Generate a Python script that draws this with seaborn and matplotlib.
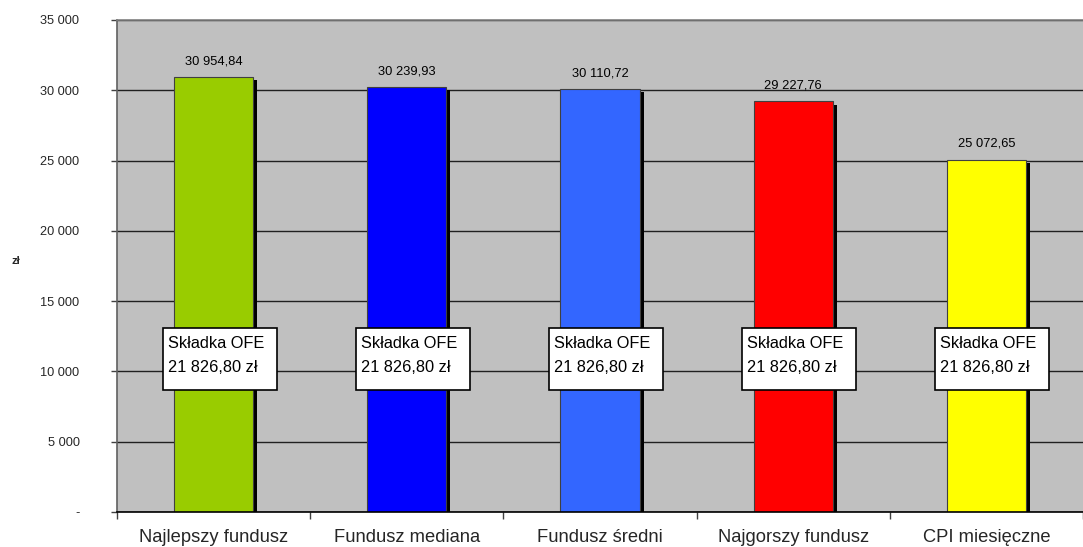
import matplotlib
matplotlib.use("Agg")
import matplotlib.pyplot as plt
import matplotlib.transforms as mtransforms
from matplotlib.patches import Rectangle
from matplotlib.ticker import FixedLocator, FuncFormatter
import seaborn as sns
import pandas as pd

# Chart data
categories = ["Najlepszy fundusz", "Fundusz mediana", "Fundusz średni",
              "Najgorszy fundusz", "CPI miesięczne"]
values = [30954.84, 30239.93, 30110.72, 29227.76, 25072.65]
colors = ["#99CC00", "#0000FF", "#3366FF", "#FF0000", "#FFFF00"]
contribution = 21826.80
y_ticks = [0, 5000, 10000, 15000, 20000, 25000, 30000, 35000]


def pl_num(v, decimals=2):
    s = f"{v:,.{decimals}f}"
    return s.replace(",", " ").replace(".", ",")


df = pd.DataFrame({"kategoria": categories, "wartosc": values})

sns.set_theme(style="white")
plt.rcParams["font.family"] = ["Liberation Sans", "DejaVu Sans"]

DPI = 100
fig = plt.figure(figsize=(10.83, 5.47), dpi=DPI)
ax = fig.add_axes([117 / 1083, 35 / 547, (1083 - 117) / 1083, (512 - 20) / 547])
ax.set_facecolor("#C0C0C0")

bar_width = 0.41

# Coloured bars
sns.barplot(data=df, x="kategoria", y="wartosc", hue="kategoria",
            palette=colors, width=bar_width, ax=ax, saturation=1,
            legend=False, zorder=3)
bars = list(ax.patches)
for p in bars:
    p.set_edgecolor("#404040")
    p.set_linewidth(0.8)

# Drop shadows: black copies of each bar shifted right and down
shift = mtransforms.ScaledTranslation(4 / DPI, -3.5 / DPI, fig.dpi_scale_trans)
for p in bars:
    ax.add_patch(Rectangle((p.get_x(), p.get_y()), p.get_width(), p.get_height(),
                           transform=ax.transData + shift, facecolor="black",
                           edgecolor="none", zorder=2.5))

# Value labels above bars
for i, v in enumerate(values):
    ax.annotate(pl_num(v), xy=(i, v), xytext=(0, 7), textcoords="offset points",
                ha="center", va="bottom", fontsize=9.3, color="black", zorder=5)

# Contribution boxes (fixed size, text left-aligned) in the middle of each bar
box_w, box_h = 114 / DPI, 62 / DPI
for i in range(len(categories)):
    anchor = mtransforms.ScaledTranslation(i, contribution / 2, ax.transData)
    box_tr = fig.dpi_scale_trans + anchor
    ax.add_patch(Rectangle((-box_w / 2 + 6 / DPI, -box_h / 2), box_w, box_h,
                           transform=box_tr, facecolor="white", edgecolor="black",
                           linewidth=1.2, zorder=6, clip_on=False))
    ax.text(-box_w / 2 + 11 / DPI, 3 / DPI,
            f"Składka OFE\n{pl_num(contribution)} zł",
            transform=box_tr, ha="left", va="center", fontsize=11.8,
            color="black", zorder=6.5, linespacing=1.7)

# Axes styling
ax.set_xlim(-0.5, len(categories) - 0.5)
ax.set_ylim(0, 35000)
ax.yaxis.set_major_locator(FixedLocator(y_ticks))
ax.yaxis.set_major_formatter(FuncFormatter(lambda v, _: "-" if v == 0 else pl_num(v, 0)))
ax.grid(axis="y", color="#202020", linewidth=1.0, zorder=1)
ax.set_axisbelow(True)
ax.tick_params(axis="y", which="both", left=True, length=4, width=1,
               color="#404040", labelsize=9.2, pad=23)
for lbl in ax.get_yticklabels():
    lbl.set_horizontalalignment("right")

ax.set_xticks(range(len(categories)))
ax.set_xticklabels(categories, fontsize=13.2)
ax.tick_params(axis="x", length=0, pad=12)
# boundary ticks between categories
ax.set_xticks([i - 0.5 for i in range(len(categories) + 1)], minor=True)
ax.tick_params(axis="x", which="minor", bottom=True, length=5, width=1, color="#404040")

ax.set_xlabel("")
ax.set_ylabel("zł", rotation=0, fontsize=8, fontweight="bold", labelpad=0)
ax.yaxis.set_label_coords(-0.105, 0.5)

ax.spines["right"].set_visible(False)
ax.spines["top"].set_color("#808080")
ax.spines["top"].set_linewidth(1.2)
ax.spines["left"].set_color("#606060")
ax.spines["left"].set_linewidth(1.2)
ax.spines["bottom"].set_color("black")
ax.spines["bottom"].set_linewidth(1.2)
for s in ax.spines.values():
    s.set_zorder(7)

fig.savefig("out.png", dpi=DPI, facecolor="white")
